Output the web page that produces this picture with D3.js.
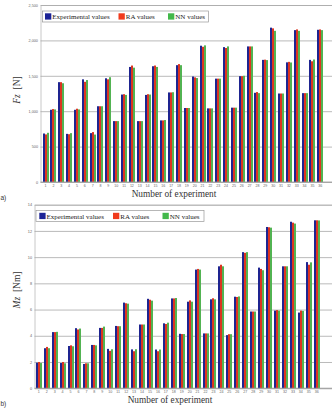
<!DOCTYPE html>
<html>
<head>
<meta charset="utf-8">
<script src="https://cdn.jsdelivr.net/npm/d3@7"></script>
<style>
  body { margin: 0; background: #fff; }
  svg { display: block; }
</style>
</head>
<body>
<div id="chart"></div>
<script>
const experiments = d3.range(1, 37).map(String);
const seriesNames = ['Experimental values', 'RA values', 'NN values'];

const fzExp = [685,1020,1410,680,1020,1450,690,1070,1465,860,1235,1625,860,1230,1635,870,1265,1650,1045,1490,1925,1040,1460,1905,1050,1495,1915,1260,1725,2180,1250,1690,2145,1255,1725,2150];
const fzRA  = [672,1030,1410,675,1035,1415,705,1070,1450,860,1240,1645,860,1240,1645,870,1265,1665,1045,1478,1910,1040,1460,1893,1050,1495,1915,1270,1728,2170,1250,1697,2155,1255,1705,2155];
const fzNN  = [695,1025,1395,690,1025,1440,670,1070,1480,860,1230,1615,860,1235,1625,875,1268,1650,1045,1468,1930,1040,1460,1915,1050,1500,1915,1255,1722,2135,1250,1688,2135,1255,1730,2145];
const fzTicks = [0, 500, 1000, 1500, 2000, 2500];

const mzExp = [1.95,3.05,4.28,1.92,3.22,4.58,1.85,3.3,4.6,3.0,4.75,6.53,2.96,4.86,6.82,2.95,4.95,6.85,4.15,6.6,9.05,4.18,6.78,9.3,4.05,6.98,10.38,5.85,9.2,12.3,5.92,9.3,12.7,5.77,9.62,12.81];
const mzRA  = [2.0,3.15,4.28,2.0,3.27,4.48,1.9,3.3,4.6,2.85,4.73,6.48,2.82,4.86,6.75,2.82,4.9,6.85,4.13,6.7,9.1,4.18,6.86,9.42,4.12,6.96,10.33,5.85,9.1,12.28,5.96,9.3,12.63,5.92,9.42,12.81];
const mzNN  = [1.92,3.05,4.3,1.9,3.2,4.55,1.9,3.27,4.7,2.97,4.73,6.45,2.97,4.86,6.68,2.95,5.0,6.88,4.13,6.6,9.05,4.18,6.78,9.3,4.12,7.0,10.38,5.85,9.0,12.25,5.92,9.3,12.56,5.9,9.6,12.8];
const mzTicks = [0, 2, 4, 6, 8, 10, 12, 14];

const colors = ['#1e2490', '#dc3520', '#52b352'];
const legendColors = ['#1c2396', '#f03a1c', '#42b84a'];

const svg = d3.select('#chart').append('svg')
  .attr('width', 334)
  .attr('height', 408);

function drawPanel(cfg) {
  const g = svg.append('g');

  const x = d3.scaleBand().domain(experiments)
    .range(cfg.xRange).paddingInner(0.24).paddingOuter(0.12);
  const y = d3.scaleLinear().domain([0, cfg.max]).range([cfg.bottom, cfg.top]);

  // grid
  const yAxis = g.append('g')
    .attr('transform', `translate(${cfg.left},0)`)
    .call(d3.axisLeft(y).tickValues(cfg.ticks).tickSize(-(cfg.right - cfg.left)).tickPadding(2.5));
  yAxis.select('.domain').attr('stroke', '#c8c8c8');
  yAxis.selectAll('.tick line').attr('stroke', '#a8a8a8').attr('stroke-width', 0.8);
  yAxis.selectAll('.tick text')
    .attr('font-family', 'Liberation Sans, Arial, sans-serif')
    .attr('font-size', 3.8).attr('fill', '#666');

  // bars, snapped to whole pixels so the thin stripes stay crisp
  const barW = 2;
  const series = [cfg.exp, cfg.ra, cfg.nn];
  series.forEach((vals, si) => {
    g.append('g').selectAll('rect')
      .data(vals)
      .enter().append('rect')
      .attr('x', (d, i) => Math.round(x(experiments[i]) + x.bandwidth() / 2 - 3) + si * barW)
      .attr('width', barW)
      .attr('y', d => y(d))
      .attr('height', d => y(0) - y(d))
      .attr('fill', colors[si]);
  });

  // x axis
  const xAxis = g.append('g')
    .attr('transform', `translate(0,${cfg.bottom})`)
    .call(d3.axisBottom(x).tickSize(0).tickPadding(2.2));
  xAxis.select('.domain').remove();
  xAxis.selectAll('.tick text')
    .attr('font-family', 'Liberation Sans, Arial, sans-serif')
    .attr('font-size', 3.6).attr('fill', '#666');
  g.append('line')
    .attr('x1', cfg.left).attr('x2', cfg.right)
    .attr('y1', cfg.bottom).attr('y2', cfg.bottom)
    .attr('stroke', '#999').attr('stroke-width', 0.8);

  // legend
  const lg = g.append('g').attr('transform', `translate(${cfg.legend[0]},${cfg.legend[1]})`);
  lg.append('rect')
    .attr('width', cfg.legendW).attr('height', 11)
    .attr('fill', '#fff').attr('stroke', '#999').attr('stroke-width', 0.7);
  const offs = cfg.legendOffs;
  seriesNames.forEach((name, i) => {
    lg.append('rect')
      .attr('x', offs[i]).attr('y', 2.3)
      .attr('width', 6.3).attr('height', 6.3)
      .attr('fill', legendColors[i]);
    lg.append('text')
      .attr('x', offs[i] + 7.3).attr('y', 8.2)
      .attr('font-family', 'Liberation Serif, Times New Roman, serif')
      .attr('font-size', 7).attr('fill', '#222')
      .text(name);
  });

  // titles
  const yt = g.append('text')
    .attr('transform', `translate(${cfg.yTitle[0]},${cfg.yTitle[1]}) rotate(-90)`)
    .attr('text-anchor', 'middle')
    .attr('font-family', 'Liberation Serif, Times New Roman, serif')
    .attr('font-size', 9.5).attr('fill', '#333');
  yt.append('tspan').attr('font-style', 'italic').text(cfg.yVar);
  yt.append('tspan').text('\u00a0\u00a0' + cfg.yUnit);

  g.append('text')
    .attr('x', cfg.xTitle[0]).attr('y', cfg.xTitle[1])
    .attr('text-anchor', 'middle')
    .attr('font-family', 'Liberation Serif, Times New Roman, serif')
    .attr('font-size', 9.3).attr('fill', '#333')
    .text('Number of experiment');

  g.append('text')
    .attr('x', 0.5).attr('y', cfg.tag[1])
    .attr('font-family', 'Liberation Sans, Arial, sans-serif')
    .attr('font-size', 6.5).attr('fill', '#333')
    .text(cfg.tag[0]);
}

drawPanel({
  exp: fzExp, ra: fzRA, nn: fzNN, ticks: fzTicks, max: 2500,
  left: 40.5, right: 332, top: 5, bottom: 182,
  xRange: [41.6, 324.2],
  legend: [42.5, 11], legendW: 166, legendOffs: [2.5, 76, 125.5],
  yTitle: [20, 90], yVar: 'Fz', yUnit: '[N]',
  xTitle: [174, 197], tag: ['a)', 200]
});

drawPanel({
  exp: mzExp, ra: mzRA, nn: mzNN, ticks: mzTicks, max: 14,
  left: 34.5, right: 332, top: 204.7, bottom: 388.2,
  xRange: [34.8, 320.7],
  legend: [36, 210.5], legendW: 168, legendOffs: [3.3, 77, 126.5],
  yTitle: [19.5, 290], yVar: 'Mz', yUnit: '[Nm]',
  xTitle: [170, 402.5], tag: ['b)', 406]
});
</script>
</body>
</html>
